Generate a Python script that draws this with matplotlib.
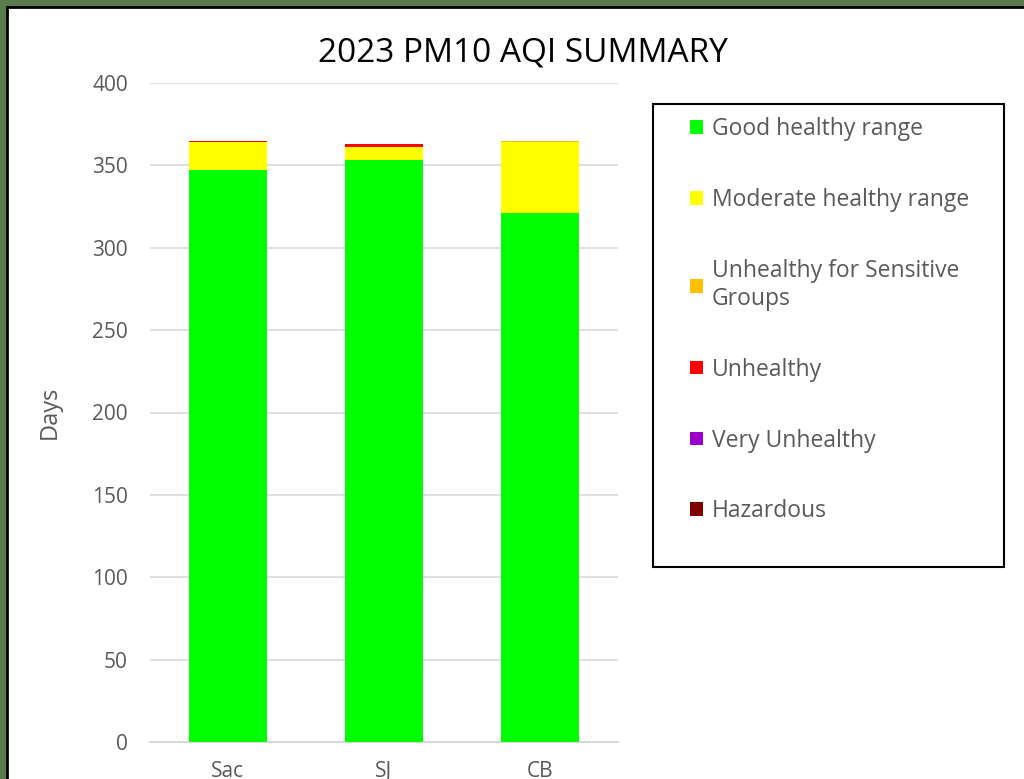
import numpy as np
import matplotlib
matplotlib.use('Agg')
import matplotlib.pyplot as plt
from matplotlib.patches import Rectangle, Patch

sites = ['Sac', 'SJ', 'CB']
good = [347, 353, 321]
moderate = [17, 8, 43]
usg = [0, 0, 1]
unhealthy = [1, 2, 0]
very_unhealthy = [0, 0, 0]
hazardous = [0, 0, 0]

labels = ['Good healthy range', 'Moderate healthy range',
          'Unhealthy for Sensitive\nGroups', 'Unhealthy',
          'Very Unhealthy', 'Hazardous']
colors = ['#00ff00', '#ffff00', '#ffc000', '#ff0000', '#9900cc', '#800000']
series = [good, moderate, usg, unhealthy, very_unhealthy, hazardous]

plt.rcParams['font.family'] = ['Open Sans', 'DejaVu Sans']
gray = '#595959'

W, H = 1024, 779
fig = plt.figure(figsize=(W / 100, H / 100), dpi=100)
fig.patch.set_facecolor('#5b7a4f')

# white chart area with thin black frame
fig.patches.append(Rectangle((7 / W, -0.01), 1.0, 1 - 7 / H + 0.01,
                             transform=fig.transFigure, facecolor='white',
                             edgecolor='black', linewidth=2, zorder=-10))

ax = fig.add_axes([150 / W, 37 / H, 468 / W, 659 / H])
ax.set_facecolor('none')
ax.set_zorder(1)

x = np.arange(len(sites))
bottom = np.zeros(len(sites))
for vals, c, lab in zip(series, colors, labels):
    b = ax.bar(x, vals, 0.5, bottom=bottom, color=c, zorder=3, linewidth=0)
    for p, v in zip(b.patches, vals):
        if v == 0:
            p.set_visible(False)  # no hairline for empty segments
    bottom += np.array(vals)

handles = [Patch(facecolor=c, label=lab) for c, lab in zip(colors, labels)]

ax.set_xlim(-0.5, 2.5)
ax.set_ylim(0, 400)
ax.set_yticks(range(0, 401, 50))
ax.set_xticks(x)
ax.set_xticklabels(sites)
ax.yaxis.grid(True, color='#d9d9d9', linewidth=1.2, zorder=0)
ax.set_axisbelow(True)
for s in ['top', 'right', 'left']:
    ax.spines[s].set_visible(False)
ax.spines['bottom'].set_color('#d9d9d9')
ax.spines['bottom'].set_linewidth(1.5)
ax.tick_params(axis='both', length=0, colors=gray, labelsize=15)
ax.tick_params(axis='y', pad=16)
ax.tick_params(axis='x', pad=14)
ax.set_ylabel('Days', color=gray, fontsize=17)
ax.yaxis.set_label_coords(-0.188, 0.5)

fig.text(523 / W, 1 - 53 / H, '2023 PM10 AQI SUMMARY', ha='center',
         va='center', fontsize=24, color='black')

# legend box
fig.patches.append(Rectangle((653 / W, 1 - 567 / H), 351 / W, 463 / H,
                             transform=fig.transFigure, facecolor='white',
                             edgecolor='black', linewidth=1.5, zorder=1))
leg = fig.legend(handles=handles, loc='upper left',
                 bbox_to_anchor=(690 / W, 1 - 117 / H), frameon=False,
                 fontsize=16.5, labelcolor=gray, handlelength=0.55,
                 handleheight=0.55, handletextpad=0.4, labelspacing=2.05,
                 borderpad=0, borderaxespad=0)
leg.set_zorder(2)

fig.savefig('out.png', dpi=100, facecolor=fig.get_facecolor())
